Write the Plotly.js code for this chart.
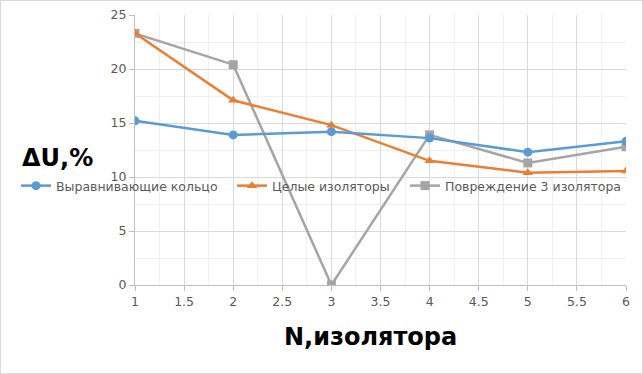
<!DOCTYPE html>
<html><head><meta charset="utf-8">
<script src="https://cdn.plot.ly/plotly-3.0.1.min.js"></script>
<style>body{margin:0;background:#fff}#plot{width:641px;height:372px;border:1px solid #d9d9d9}</style>
</head><body><div id="plot"></div>
<script>
const xValues = [1, 2, 3, 4, 5, 6];
const seriesNames = ["Выравнивающие кольцо", "Целые изоляторы", "Повреждение 3 изолятора"];
const ringValues = [15.2, 13.9, 14.2, 13.6, 12.3, 13.3];
const wholeValues = [23.3, 17.1, 14.8, 11.5, 10.4, 10.55];
const damagedValues = [23.3, 20.4, 0, 13.9, 11.3, 12.8];
const xTitle = "N,изолятора";
const yTitle = "ΔU,%";

const colors = ["#5B9BD5", "#ED7D31", "#A5A5A5"];
const symbols = ["circle", "triangle-up", "square"];
const data = [ringValues, wholeValues, damagedValues];
const legends = ["legend", "legend2", "legend3"];
const traces = data.map((vals, i) => ({
  x: xValues, y: vals, name: seriesNames[i], type: "scatter", mode: "lines+markers",
  line: {color: colors[i], width: 2.5},
  marker: {color: colors[i], symbol: symbols[i], size: 9},
  legend: legends[i]
}));
const ordered = [traces[2], traces[1], traces[0]];

const legFont = {family: "DejaVu Sans", size: 12.5, color: "#595959"};
function leg(xpx) {
  return {xref: "container", yref: "container", x: xpx / 641, y: 1 - 185 / 372,
    xanchor: "left", yanchor: "middle", orientation: "h", bgcolor: "rgba(0,0,0,0)",
    font: legFont, borderwidth: 0, itemwidth: 30};
}
const tickFont = {family: "DejaVu Sans", size: 12.5, color: "#595959"};
const layout = {
  width: 641, height: 372,
  margin: {l: 134, r: 16, t: 14, b: 88, autoexpand: false},
  paper_bgcolor: "#fff", plot_bgcolor: "#fff",
  showlegend: true,
  legend: leg(15), legend2: leg(231), legend3: leg(404),
  xaxis: {range: [1, 6], dtick: 0.5, tick0: 1, showgrid: true, gridcolor: "#d9d9d9", gridwidth: 1,
    minor: {dtick: 0.25, showgrid: true, gridcolor: "#f0f0f0", gridwidth: 1},
    ticks: "outside", ticklen: 5, tickcolor: "#bfbfbf", showline: true, linecolor: "#bfbfbf", linewidth: 1,
    zeroline: false, tickfont: tickFont, fixedrange: true, automargin: false},
  yaxis: {range: [0, 25], dtick: 5, showgrid: true, gridcolor: "#d9d9d9", gridwidth: 1,
    minor: {dtick: 2.5, showgrid: true, gridcolor: "#f0f0f0", gridwidth: 1},
    ticks: "outside", ticklen: 5, tickcolor: "#bfbfbf", showline: true, linecolor: "#bfbfbf", linewidth: 1,
    zeroline: false, tickfont: tickFont, fixedrange: true, automargin: false},
  annotations: [
    {text: "<b>" + yTitle + "</b>", xref: "paper", yref: "paper", x: (56 - 134) / 491, y: (284 - 157) / 270,
      xanchor: "center", yanchor: "middle", showarrow: false, font: {family: "DejaVu Sans", size: 24, color: "#000"}},
    {text: "<b>" + xTitle + "</b>", xref: "paper", yref: "paper", x: (369 - 134) / 491, y: (284 - 336) / 270,
      xanchor: "center", yanchor: "middle", showarrow: false, font: {family: "DejaVu Sans", size: 24, color: "#000"}}
  ]
};
Plotly.newPlot("plot", ordered, layout, {displayModeBar: false, staticPlot: true});
</script></body></html>
